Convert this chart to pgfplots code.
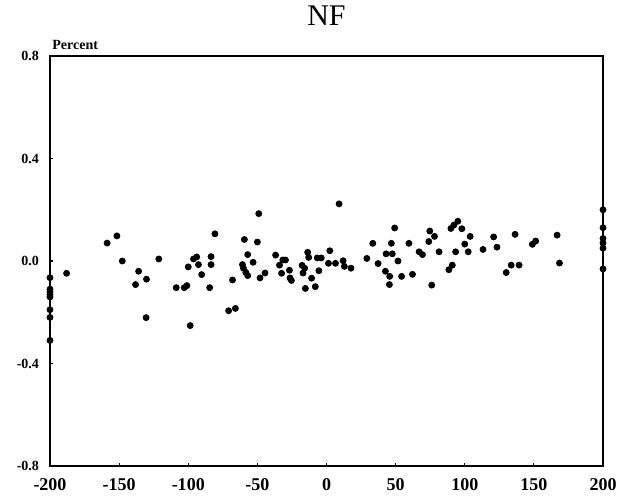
\documentclass[border=0pt]{standalone}
\usepackage{fontspec}
\setmainfont{Liberation Serif}
\usepackage{pgfplots}
\pgfplotsset{compat=1.18}
\begin{document}
\begin{tikzpicture}
\begin{axis}[
  name=ax,
  width=276.5pt, height=205pt, scale only axis,
  xmin=-200, xmax=200, ymin=-0.8, ymax=0.8,
  clip=false,
  axis line style={line width=1pt},
  xtick={-200,-150,-100,-50,0,50,100,150,200},
  xticklabels={-200,-150,-100,-50,0,50,100,150,200},
  ytick={-0.8,-0.4,0,0.4,0.8},
  yticklabels={-0.8,-0.4,0.0,0.4,0.8},
  tick align=inside, major tick length=1.5pt,
  tick style={line width=0.6pt,black},
  xtick pos=bottom, ytick pos=left,
  xticklabel style={font=\fontsize{9}{10}\selectfont\bfseries, yshift=-2.5pt},
  yticklabel style={font=\fontsize{7}{8}\selectfont\bfseries, xshift=-2pt},
]
\addplot[only marks, mark=*, mark size=1.5pt, black] coordinates {
(-200,-0.065) (-200,-0.11) (-200,-0.12) (-200,-0.13) (-200,-0.14) (-200,-0.19) (-200,-0.22) (-200,-0.31)
(200,0.2) (200,0.13) (200,0.088) (200,0.07) (200,0.05) (200,-0.031)
(-188,-0.048) (-158.7,0.07) (-151.6,0.098) (-147.7,0.0) (-135.9,-0.04) (-138.1,-0.092)
(-130.2,-0.071) (-130.5,-0.221) (-121.3,0.008) (-108.7,-0.104) (-102.9,-0.104) (-101.0,-0.096)
(-100,-0.023) (-96.2,0.008) (-93.9,0.016) (-92.6,-0.014) (-98.6,-0.252) (-90.3,-0.053)
(-83.5,0.017) (-83.5,-0.014) (-84.5,-0.104) (-80.7,0.106) (-68,-0.074) (-70.8,-0.194)
(-65.9,-0.185) (-59.4,0.084) (-50,0.074) (-49,0.185) (-57,0.025) (-60.8,-0.014)
(-60.1,-0.028) (-58.4,-0.044) (-57,-0.057) (-53.1,-0.005) (-48.1,-0.066) (-44.5,-0.047)
(-36.8,0.023) (-34,-0.016) (-31.6,0.004) (-29.7,0.004) (-32.5,-0.048) (-26.8,-0.036)
(-26.4,-0.066) (-25.4,-0.076) (-17.7,-0.017) (-15.8,-0.028) (-17,-0.047) (-15.3,-0.107)
(-13.6,0.034) (-12.9,0.014) (-10.8,-0.067) (-8.1,-0.1) (-6.7,0.012) (-3.8,0.012)
(-5.5,-0.038) (2.4,0.04) (1.4,-0.009) (6.5,-0.009) (9.1,0.223) (12,0.001)
(12.9,-0.021) (17.7,-0.028) (29.2,0.01) (33.5,0.069) (37.3,-0.01) (42.6,-0.04)
(45.7,-0.06) (45.5,-0.092) (43.1,0.028) (47.6,0.028) (46.9,0.069) (49.3,0.129)
(51.7,0.0) (54.3,-0.06) (62.2,-0.052) (59.6,0.069) (67,0.036) (69.4,0.025)
(74.7,0.117) (78.1,0.096) (74,0.076) (76.1,-0.094) (81.4,0.036) (88.5,-0.034)
(91,-0.016) (90,0.127) (92.1,0.14) (95,0.155) (93.4,0.036) (97.9,0.126)
(100,0.066) (102.5,0.036) (103.9,0.096) (113.2,0.045) (120.9,0.094) (123.3,0.054)
(130,-0.045) (133.6,-0.016) (139.3,-0.016) (136.4,0.104) (148.9,0.065) (151.3,0.078)
(166.8,0.101) (168.5,-0.008)
};
\end{axis}
\node[anchor=south west, inner sep=0pt, font=\fontsize{7}{8}\selectfont\bfseries] at ([xshift=1pt,yshift=3pt]ax.north west) {Percent};
\node[anchor=base, inner sep=0pt, font=\fontsize{15}{16}\selectfont] at ([yshift=15pt]ax.north) {NF};
\pgfresetboundingbox
\useasboundingbox ([xshift=-25pt,yshift=-14.5pt]ax.south west) rectangle ([xshift=15pt,yshift=28pt]ax.north east);
\end{tikzpicture}
\end{document}
